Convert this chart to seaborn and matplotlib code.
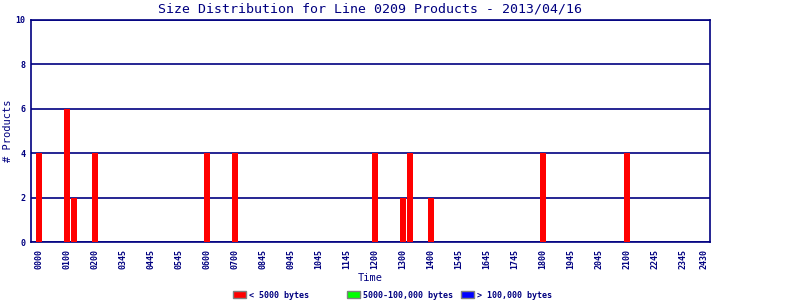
import matplotlib
matplotlib.use("Agg")
import matplotlib.pyplot as plt
import matplotlib.patches as mpatches
import seaborn as sns
import pandas as pd
import numpy as np

# ---- data ----
n_slots = 96  # quarter-hour slots
bar_slots = [0, 4, 5, 8, 24, 28, 48, 52, 53, 56, 72, 84]
small_counts = [4, 6, 2, 4, 4, 4, 4, 2, 4, 2, 4, 4]   # < 5000 bytes
tick_slots = [0, 4, 8, 12, 16, 20, 24, 28, 32, 36, 40, 44, 48, 52, 56,
              60, 64, 68, 72, 76, 80, 84, 88, 92, 95]
tick_labels = ['0000', '0100', '0200', '0345', '0445', '0545', '0600', '0700',
               '0845', '0945', '1045', '1145', '1200', '1300', '1400', '1545',
               '1645', '1745', '1800', '1945', '2045', '2100', '2245', '2345', '2430']
legend_labels = ['< 5000 bytes', '5000-100,000 bytes', '> 100,000 bytes']
legend_colors = ['#ff0000', '#00ff00', '#0000ff']
title = 'Size Distribution for Line 0209 Products - 2013/04/16'

counts = np.zeros(n_slots)
for s, c in zip(bar_slots, small_counts):
    counts[s] = c
df = pd.DataFrame({'slot': np.arange(n_slots), 'count': counts})

NAVY = '#000080'
MONO = 'DejaVu Sans Mono'

sns.set_style('white')
plt.rcParams['font.family'] = [MONO, 'DejaVu Sans']

fig = plt.figure(figsize=(8, 3), dpi=100)
ax = fig.add_axes([31 / 800, 1 - 242 / 300, (710 - 31) / 800, (242 - 20) / 300])

sns.barplot(data=df, x='slot', y='count', order=list(range(n_slots)),
            color='#ff0000', saturation=1, width=0.86, ax=ax, zorder=3,
            linewidth=0)

ax.set_xlim(-1.14, 95.86)
ax.set_ylim(0, 10)
ax.set_yticks([0, 2, 4, 6, 8, 10])
ax.set_yticklabels(['0', '2', '4', '6', '8', '10'], fontsize=6, fontweight='bold',
                   color=NAVY)
ax.set_xticks(tick_slots)
ax.set_xticklabels(tick_labels, rotation=90, fontsize=6, fontweight='bold',
                   color=NAVY)
ax.tick_params(axis='both', length=0)
ax.tick_params(axis='y', pad=4)
ax.tick_params(axis='x', pad=5)

ax.yaxis.grid(True, color=NAVY, linewidth=1.2, zorder=1)
ax.set_axisbelow(True)
for sp in ax.spines.values():
    sp.set_visible(True)
    sp.set_color(NAVY)
    sp.set_linewidth(1.2)

ax.set_xlabel('Time', fontsize=7.5, color=NAVY, labelpad=3)
ax.set_ylabel('# Products', fontsize=7.5, color=NAVY)
ax.yaxis.set_label_coords(-0.0265, 0.5)
ax.set_title(title, fontsize=9.5, color=NAVY, pad=5.5)

# legend entries
box_x = [233, 347, 461]
for lbl, col, x in zip(legend_labels, legend_colors, box_x):
    h = mpatches.Patch(facecolor=col, edgecolor='#808080', linewidth=1, label=lbl)
    leg = fig.legend(handles=[h], loc='center left',
                     bbox_to_anchor=(x / 800, 1 - 295 / 300),
                     frameon=False, borderpad=0, borderaxespad=0,
                     handlelength=1.55, handleheight=0.95, handletextpad=0.4,
                     prop={'family': MONO, 'size': 6, 'weight': 'bold'})
    for t in leg.get_texts():
        t.set_color(NAVY)

fig.savefig('out.png', dpi=100)
